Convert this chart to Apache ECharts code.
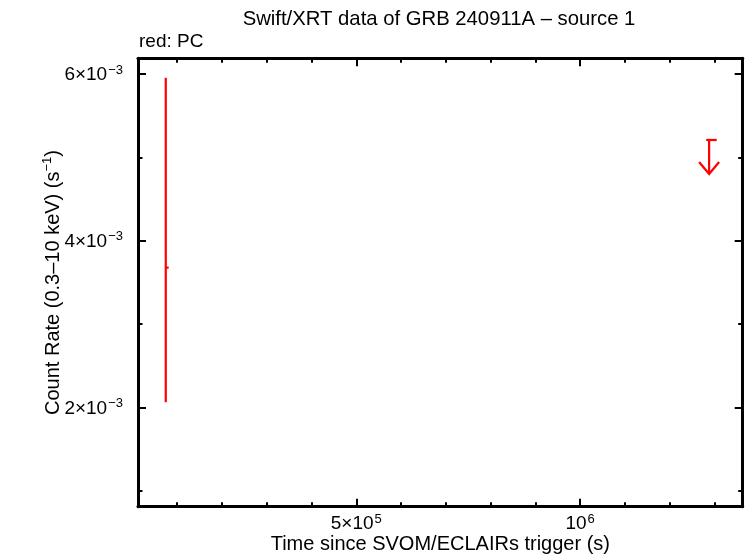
<!DOCTYPE html>
<html><head><meta charset="utf-8">
<script src="https://cdn.jsdelivr.net/npm/echarts@6/dist/echarts.min.js"></script>
<style>html,body{margin:0;padding:0;background:#fff}#c{width:746px;height:558px}</style>
</head><body><div id="c"></div>
<script>
// ---- texts ----
const titleText = 'Swift/XRT data of GRB 240911A \u2013 source 1';
const modeLabel = 'red: PC';
const xName = 'Time since SVOM/ECLAIRs trigger (s)';
const yNameMain = 'Count Rate (0.3\u201310 keV) (s';
const yNameSup = '\u22121';
const yNameEnd = ')';

// ---- axis ranges & ticks ----
const xRange = [12500, 1363000];
const yRange = [0.000807, 0.006188];
const xMajorTicks = [500000, 1000000];
const xMajorLabels = [['5\u00d710', '5'], ['10', '6']];
const xMinorTicks = [100000, 200000, 300000, 400000, 500000, 600000, 700000, 800000, 900000, 1000000, 1100000, 1200000, 1300000];
const yMajorTicks = [0.002, 0.004, 0.006];
const yMajorLabels = [['2\u00d710', '\u22123'], ['4\u00d710', '\u22123'], ['6\u00d710', '\u22123']];
const yMinorTicks = [0.001, 0.003, 0.005];

// ---- PC mode detections ----
const pcTime = [74500];
const pcRate = [0.003676];
const pcTimeLo = [73800];
const pcTimeHi = [81000];
const pcRateLo = [0.00206];
const pcRateHi = [0.005956];

// ---- PC mode upper limits ----
const ulTime = [1288000];
const ulRate = [0.005208];
const ulTimeLo = [1281500];
const ulTimeHi = [1305000];

const FONT = 'Liberation Sans';
const RED = '#ff0000';

function pickLabel(v, ticks, labels) {
  let best = 0, d = Infinity;
  ticks.forEach((t, i) => { const dd = Math.abs(t - v); if (dd < d) { d = dd; best = i; } });
  const l = labels[best];
  return '{b|' + l[0] + '}{s|' + l[1] + '}';
}
const labelRich = {
  b: { fontFamily: FONT, fontSize: 19, color: '#000', lineHeight: 21, verticalAlign: 'bottom' },
  s: { fontFamily: FONT, fontSize: 13, color: '#000', lineHeight: 13, verticalAlign: 'top', padding: [0, 0, 0, 1] }
};

const gridPos = { left: 138, right: 3.3, top: 58.3, bottom: 51.3, containLabel: false, outerBoundsMode: 'none' };
const lineStyle = { color: '#000', width: 3 };

function xAx(gridIndex, position, ticks, len, withLabels, showLine) {
  const a = {
    type: 'value', gridIndex, position, min: xRange[0], max: xRange[1],
    axisLine: { show: showLine, onZero: false, lineStyle },
    axisTick: { show: true, inside: true, length: len, customValues: ticks, lineStyle: { color: '#000', width: 2 } },
    axisLabel: { show: false },
    splitLine: { show: false }
  };
  if (withLabels) {
    a.axisLabel = { show: true, customValues: xMajorTicks, margin: 6,
      formatter: v => pickLabel(v, xMajorTicks, xMajorLabels), rich: labelRich };
    a.name = xName; a.nameLocation = 'middle'; a.nameGap = 28; a.nameMoveOverlap = false;
    a.nameTextStyle = { fontFamily: FONT, fontSize: 20, color: '#000' };
  }
  return a;
}
function yAx(gridIndex, position, ticks, len, withLabels, showLine) {
  const a = {
    type: 'value', gridIndex, position, min: yRange[0], max: yRange[1],
    axisLine: { show: showLine, onZero: false, lineStyle },
    axisTick: { show: true, inside: true, length: len, customValues: ticks, lineStyle: { color: '#000', width: 2 } },
    axisLabel: { show: false },
    splitLine: { show: false }
  };
  if (withLabels) {
    a.axisLabel = { show: true, customValues: yMajorTicks, margin: 15,
      formatter: v => pickLabel(v, yMajorTicks, yMajorLabels), rich: labelRich };
    a.name = '{a|' + yNameMain + '}{s|' + yNameSup + '}{a|' + yNameEnd + '}';
    a.nameLocation = 'middle'; a.nameGap = 75; a.nameMoveOverlap = false;
    a.nameTextStyle = { rich: {
      a: { fontFamily: FONT, fontSize: 20, color: '#000', lineHeight: 22, verticalAlign: 'bottom' },
      s: { fontFamily: FONT, fontSize: 13, color: '#000', lineHeight: 13, verticalAlign: 'top' }
    } };
  }
  return a;
}

const pcData = pcTime.map((t, i) => [t, pcRate[i], pcTimeLo[i], pcTimeHi[i], pcRateLo[i], pcRateHi[i]]);
const ulData = ulTime.map((t, i) => [t, ulRate[i], ulTimeLo[i], ulTimeHi[i]]);

const chart = echarts.init(document.getElementById('c'), null, { renderer: 'canvas' });
chart.setOption({
  animation: false,
  backgroundColor: '#fff',
  grid: [Object.assign({}, gridPos), Object.assign({}, gridPos)],
  xAxis: [
    xAx(0, 'bottom', xMajorTicks, 8, true, true),
    xAx(0, 'top', xMajorTicks, 8, false, true),
    xAx(1, 'bottom', xMinorTicks, 4.5, false, false),
    xAx(1, 'top', xMinorTicks, 4.5, false, false)
  ],
  yAxis: [
    yAx(0, 'left', yMajorTicks, 8, true, true),
    yAx(0, 'right', yMajorTicks, 8, false, true),
    yAx(1, 'left', yMinorTicks, 4.5, false, false),
    yAx(1, 'right', yMinorTicks, 4.5, false, false)
  ],
  graphic: [
    { type: 'text', x: 439, y: 19, style: { text: titleText, font: '20.3px "' + FONT + '"', fill: '#000', textAlign: 'center', textVerticalAlign: 'middle' } },
    { type: 'text', x: 139, y: 42, style: { text: modeLabel, font: '19px "' + FONT + '"', fill: '#000', textAlign: 'left', textVerticalAlign: 'middle' } }
  ],
  series: [
    {
      type: 'custom', name: 'PC', xAxisIndex: 0, yAxisIndex: 0, data: pcData, clip: false,
      renderItem(params, api) {
        const x = api.value(0), y = api.value(1);
        const top = api.coord([x, api.value(5)]), bot = api.coord([x, api.value(4)]);
        const l = api.coord([api.value(2), y]), r = api.coord([api.value(3), y]);
        const st = { stroke: RED, lineWidth: 2.2 };
        return { type: 'group', children: [
          { type: 'line', shape: { x1: top[0], y1: top[1], x2: bot[0], y2: bot[1] }, style: st },
          { type: 'line', shape: { x1: l[0], y1: l[1], x2: r[0], y2: r[1] }, style: st }
        ] };
      }
    },
    {
      type: 'custom', name: 'PC upper limit', xAxisIndex: 0, yAxisIndex: 0, data: ulData, clip: false,
      renderItem(params, api) {
        const x = api.value(0), y = api.value(1);
        const p = api.coord([x, y]);
        const l = api.coord([api.value(2), y]), r = api.coord([api.value(3), y]);
        const st = { stroke: RED, lineWidth: 2.2, fill: 'none' };
        const len = 34;
        return { type: 'group', children: [
          { type: 'line', shape: { x1: l[0], y1: l[1], x2: r[0], y2: r[1] }, style: st },
          { type: 'line', shape: { x1: p[0], y1: p[1], x2: p[0], y2: p[1] + len }, style: st },
          { type: 'polyline', shape: { points: [[p[0] - 10, p[1] + len - 12], [p[0], p[1] + len], [p[0] + 10, p[1] + len - 12]] }, style: st }
        ] };
      }
    }
  ]
});
</script>
</body></html>
